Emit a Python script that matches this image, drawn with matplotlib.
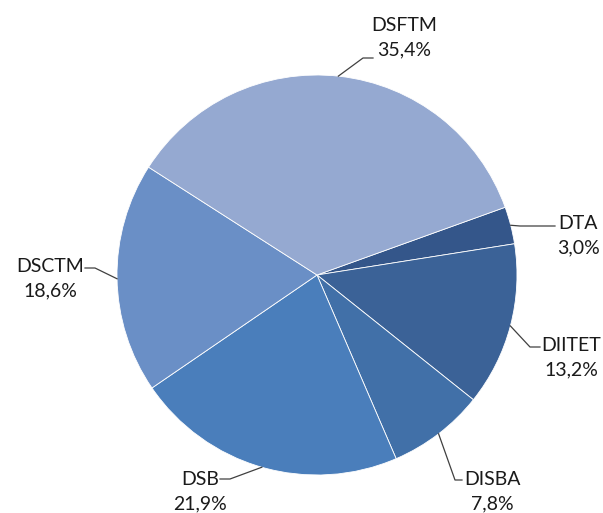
import numpy as np
import matplotlib
matplotlib.use('Agg')
import matplotlib.pyplot as plt

# data (clockwise from DTA)
labels = ['DTA', 'DIITET', 'DISBA', 'DSB', 'DSCTM', 'DSFTM']
values = [3.0, 13.2, 7.8, 21.9, 18.6, 35.4]
colors = ['#34568a', '#3b6297', '#4170a8', '#4a7ebb', '#6a8fc6', '#95a9d1']

# label text centres (pixel coords, y from top)
text_pos = {'DTA': (578, 236), 'DIITET': (571, 358),
            'DISBA': (492, 492), 'DSB': (200, 492),
            'DSCTM': (50, 279), 'DSFTM': (404, 38)}
# leader line elbow points (pixel coords)
elbow = {'DTA': [(520, 226), (555, 226)], 'DIITET': [(530, 347), (540, 347)],
         'DISBA': [(455, 480), (462, 480)], 'DSB': [(230, 479), (220, 479)],
         'DSCTM': [(95, 268), (85, 268)], 'DSFTM': [(363, 58), (373, 58)]}

W, H = 603, 513
cx, cy, R = 317, 275, 200
start = 19.8

plt.rcParams['font.family'] = ['Lato', 'DejaVu Sans']
fig = plt.figure(figsize=(W / 100, H / 100), dpi=100)
ax = fig.add_axes([0, 0, 1, 1])

wedges, _ = ax.pie(values, colors=colors, startangle=start, counterclock=False,
                   center=(cx, H - cy), radius=R,
                   wedgeprops=dict(edgecolor='white', linewidth=0.6))
ax.set_xlim(0, W)
ax.set_ylim(0, H)
ax.set_aspect('auto')
ax.axis('off')

# anchor points on the rim for each label
ang = start
for lab, v in zip(labels, values):
    mid = np.deg2rad(ang - v * 3.6 / 2)
    ang -= v * 3.6
    ax0 = cx + R * np.cos(mid)
    ay0 = (H - cy) + R * np.sin(mid)
    pts = [(ax0, ay0)] + [(px, H - py) for px, py in elbow[lab]]
    xs, ys = zip(*pts)
    ax.plot(xs, ys, color='#404040', lw=0.9)
    tx, ty = text_pos[lab]
    ax.text(tx, H - ty, lab + '\n' + ('%.1f%%' % v).replace('.', ','),
            ha='center', va='center', multialignment='center',
            fontsize=14, color='#1a1a1a', linespacing=1.55)

fig.savefig('out.png', dpi=100)
